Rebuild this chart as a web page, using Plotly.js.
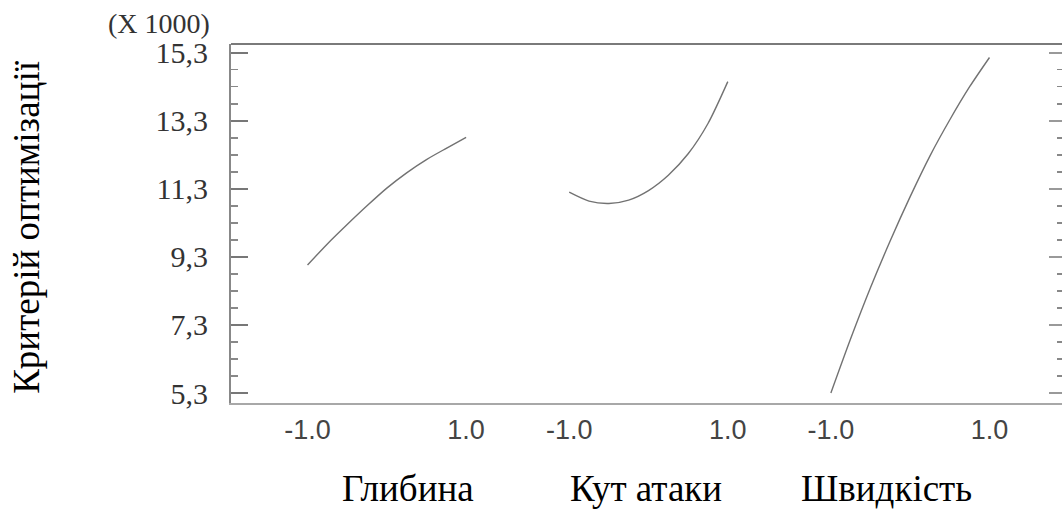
<!DOCTYPE html>
<html>
<head>
<meta charset="utf-8">
<script src="https://cdn.plot.ly/plotly-3.0.1.min.js"></script>
<style>
  html, body { margin: 0; padding: 0; background: #fff; overflow: hidden; }
  #chart { width: 1062px; height: 510px; }
</style>
</head>
<body>
<div id="chart"></div>
<script>
// ---- data (values in thousands) ----
const factors = ['Глибина', 'Кут атаки', 'Швидкість'];
const levels = [-1, -0.75, -0.5, -0.25, 0, 0.25, 0.5, 0.75, 1];
const depthY = [9.06, 9.68, 10.25, 10.8, 11.32, 11.77, 12.16, 12.49, 12.81];
const angleY = [11.2, 10.94, 10.87, 10.97, 11.25, 11.7, 12.33, 13.22, 14.45];
const speedY = [5.3, 6.9, 8.4, 9.78, 11.07, 12.27, 13.33, 14.3, 15.16];
const tickLevels = [-1, 1];
const tickLabels = ['-1.0', '1.0'];
const yTitle = 'Критерій оптимізації';
const scaleNote = '(X 1000)';

// ---- layout helpers ----
const SEG = 3.3; // spacing between factor panels on the shared x axis
const series = [depthY, angleY, speedY];
const SERIF = "'Liberation Serif', 'Times New Roman', serif";
const SANS = "'Liberation Sans', Arial, sans-serif";

const traces = series.map((ys, k) => ({
  x: levels.map(v => v + k * SEG),
  y: ys,
  type: 'scatter',
  mode: 'lines',
  line: { color: '#727272', width: 1.4, shape: 'spline', smoothing: 0.8 },
  hoverinfo: 'skip'
}));
// empty trace so the right-hand tick axis is drawn
traces.push({ x: [], y: [], type: 'scatter', mode: 'lines', yaxis: 'y2', hoverinfo: 'skip' });

const xTickVals = [], xTickText = [];
factors.forEach((f, k) => {
  tickLevels.forEach((t, i) => { xTickVals.push(t + k * SEG); xTickText.push(tickLabels[i]); });
});

const W = 1062, L = 231, R = 0;
const plotW = W - L - R;
const titleCenters = [408, 645.5, 886];
const annotations = factors.map((f, k) => ({
  text: f, xref: 'paper', yref: 'paper', x: (titleCenters[k] - L) / plotW, y: 0,
  xanchor: 'center', yanchor: 'middle', yshift: -85, showarrow: false,
  font: { family: SERIF, size: 37, color: '#000' }
}));
annotations.push({
  text: yTitle, xref: 'paper', yref: 'paper', x: 0, y: 0.488, textangle: -90,
  xanchor: 'center', yanchor: 'middle', xshift: -204, showarrow: false,
  font: { family: SERIF, size: 37, color: '#000' }
});
annotations.push({
  text: scaleNote, xref: 'paper', yref: 'paper', x: 0, y: 1,
  xanchor: 'right', yanchor: 'middle', xshift: -19, yshift: 21, showarrow: false,
  font: { family: SERIF, size: 28, color: '#333' }
});

const xRight = -1 + (W - R - 307.5) / 79.3;
const yRange = [5.006, 15.556];
const layout = {
  width: W, height: 510,
  margin: { l: L, r: R, t: 44, b: 107 },
  paper_bgcolor: '#fff', plot_bgcolor: '#fff',
  showlegend: false, hovermode: false,
  separators: ', ',
  xaxis: {
    range: [-1.965, xRight],
    tickmode: 'array', tickvals: xTickVals, ticktext: xTickText,
    ticks: '', showgrid: false, zeroline: false,
    showline: true, linecolor: '#a8a8a8', linewidth: 1.5, mirror: false,
    ticklabelstandoff: 2,
    tickfont: { family: SANS, size: 27, color: '#444' }
  },
  yaxis: {
    range: yRange,
    tickmode: 'linear', tick0: 5.3, dtick: 2, tickformat: '.1f',
    ticks: 'inside', ticklen: 17, tickwidth: 2, tickcolor: '#777',
    minor: { tickmode: 'linear', tick0: 5.3, dtick: 0.5, ticks: 'inside', ticklen: 7, tickwidth: 1.5, tickcolor: '#888' },
    showgrid: false, zeroline: false,
    showline: true, linecolor: '#888', linewidth: 2, mirror: false,
    ticklabelstandoff: 15,
    tickfont: { family: SERIF, size: 30, color: '#333' }
  },
  yaxis2: {
    overlaying: 'y', side: 'right', range: yRange,
    tickmode: 'linear', tick0: 5.3, dtick: 2,
    ticks: 'inside', ticklen: 13, tickwidth: 2, tickcolor: '#999',
    minor: { tickmode: 'linear', tick0: 5.3, dtick: 0.5, ticks: 'inside', ticklen: 5, tickwidth: 1.5, tickcolor: '#888' },
    showticklabels: false, showgrid: false, zeroline: false, showline: false
  },
  shapes: [{
    type: 'line', xref: 'paper', yref: 'paper', x0: 0, x1: 1, y0: 1, y1: 1,
    line: { color: '#7a7a7a', width: 2 }
  }],
  annotations: annotations
};

Plotly.newPlot('chart', traces, layout, { staticPlot: true, displayModeBar: false });
</script>
</body>
</html>
